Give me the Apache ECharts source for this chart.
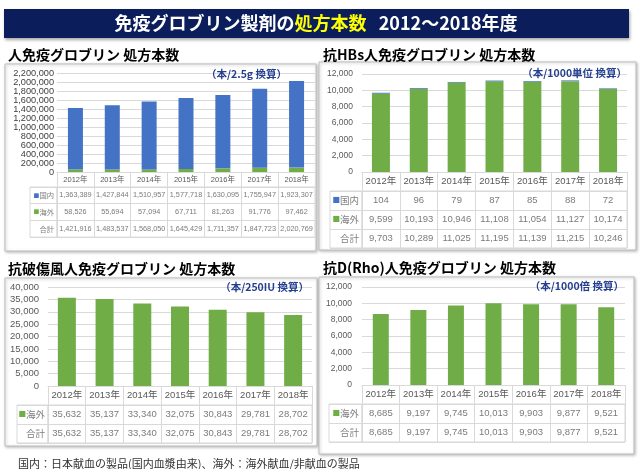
<!DOCTYPE html>
<html>
<head>
<meta charset="utf-8">
<script src="https://cdn.jsdelivr.net/npm/echarts@6/dist/echarts.min.js"></script>
<style>
  html, body { margin: 0; padding: 0; background: #fff; }
  #main { width: 643px; height: 469px; }
</style>
</head>
<body>
<div id="main"></div>
<script>
// 年度
const years = ['2012年', '2013年', '2014年', '2015年', '2016年', '2017年', '2018年']

// 人免疫グロブリン (本/2.5g換算)
const ivigDomestic = [1363389, 1427844, 1510957, 1577718, 1630095, 1755947, 1923307]
const ivigOverseas = [58526, 55694, 57094, 67711, 81263, 91776, 97462]
const ivigTotal = [1421916, 1483537, 1568050, 1645429, 1711357, 1847723, 2020769]

// 抗HBs人免疫グロブリン (本/1000単位換算)
const hbsDomestic = [104, 96, 79, 87, 85, 88, 72]
const hbsOverseas = [9599, 10193, 10946, 11108, 11054, 11127, 10174]
const hbsTotal = [9703, 10289, 11025, 11195, 11139, 11215, 10246]

// 抗破傷風人免疫グロブリン (本/250IU換算)
const tetOverseas = [35632, 35137, 33340, 32075, 30843, 29781, 28702]
const tetTotal = [35632, 35137, 33340, 32075, 30843, 29781, 28702]

// 抗D(Rho)人免疫グロブリン (本/1000倍換算)
const rhoOverseas = [8685, 9197, 9745, 10013, 9903, 9877, 9521]
const rhoTotal = [8685, 9197, 9745, 10013, 9903, 9877, 9521]

const BLUE = '#4472C4'
const GREEN = '#70AD47'
const LINE = '#d9d9d9'
const FONT = "'Liberation Sans', 'Noto Sans CJK JP', sans-serif"
const JP = "'Noto Sans CJK JP', sans-serif"
const fmt = v => v.toLocaleString('en-US')

const grid = []
const xAxis = []
const yAxis = []
const series = []

function addPanel(p) {
  const gi = grid.length
  // 棒グラフ
  grid.push({ left: p.left, top: p.top, width: p.width, height: p.height })
  xAxis.push({
    type: 'category',
    gridIndex: gi,
    data: years,
    axisLine: { lineStyle: { color: LINE } },
    //年の行の縦線
    axisTick: { show: true, interval: 0, length: p.yearH, lineStyle: { color: LINE } },
    axisLabel: { interval: 0, color: '#595959', fontSize: p.yearFont, fontFamily: FONT, margin: p.yearMargin },
  })
  yAxis.push({
    type: 'value',
    gridIndex: gi,
    min: 0,
    max: p.yMax,
    interval: p.yStep,
    axisLabel: {
      color: p.axisColor, fontSize: p.axisFont, fontFamily: FONT, margin: p.axisMargin, formatter: fmt,
      showMaxLabel: true, showMinLabel: true, hideOverlap: false,
    },
    splitLine: { lineStyle: { color: LINE } },
  })
  p.bars.forEach(b => {
    series.push({
      type: 'bar',
      name: b.name,
      xAxisIndex: gi,
      yAxisIndex: gi,
      stack: 's' + gi,
      barWidth: p.barWidth,
      data: b.data,
      itemStyle: { color: b.color },
    })
  })

  // 表
  const ti = grid.length
  const tableTop = p.top + p.height + p.yearH
  const tableH = p.rowH * p.rows.length
  grid.push({ left: p.left, top: tableTop, width: p.width, height: tableH, show: true, borderColor: LINE, borderWidth: 1 })
  xAxis.push({
    type: 'category',
    gridIndex: ti,
    data: years,
    axisLine: { show: false },
    axisTick: { show: false },
    axisLabel: { show: false },
    splitLine: { show: true, interval: 0, lineStyle: { color: LINE } },
  })
  yAxis.push({
    type: 'category',
    gridIndex: ti,
    inverse: true,
    data: p.rows.map(r => r.name),
    axisLine: { show: false },
    axisTick: { show: false },
    axisLabel: { show: false },
    splitLine: { show: true, interval: 0, lineStyle: { color: LINE } },
  })
  const cells = []
  p.rows.forEach((r, ri) => r.values.forEach((v, i) => cells.push([i, ri, v])))
  series.push({
    type: 'scatter',
    xAxisIndex: ti,
    yAxisIndex: ti,
    symbolSize: 1,
    itemStyle: { color: 'transparent' },
    silent: true,
    label: {
      show: true,
      position: 'inside',
      formatter: c => fmt(c.value[2]),
      color: '#595959',
      fontSize: p.tableFont,
      fontFamily: FONT,
    },
    data: cells,
  })

  // 行見出し
  const hi = grid.length
  grid.push({ left: p.headLeft, top: tableTop, width: p.left - p.headLeft, height: tableH, show: true, borderColor: LINE, borderWidth: 1 })
  xAxis.push({ type: 'value', gridIndex: hi, show: false, min: 0, max: 1 })
  const marks = {}
  p.rows.forEach(r => (marks[r.name] = r.mark))
  yAxis.push({
    type: 'category',
    gridIndex: hi,
    inverse: true,
    position: 'right',
    data: p.rows.map(r => r.name),
    axisLine: { show: false },
    axisTick: { show: false },
    axisLabel: {
      inside: true,
      margin: 3,
      color: '#7f7f7f',
      fontSize: p.tableFont,
      fontFamily: JP,
      formatter: v => (marks[v] ? '{' + marks[v] + '|■}' : '') + v,
      rich: {
        b: { color: BLUE, fontSize: p.tableFont * 0.8 },
        g: { color: GREEN, fontSize: p.tableFont * 0.8 },
      },
    },
    splitLine: { show: true, interval: 0, lineStyle: { color: LINE } },
  })
}

addPanel({
  left: 57, top: 73, width: 258, height: 99,
  yMax: 2200000, yStep: 200000, axisFont: 9.2, axisColor: '#404040', axisMargin: 3,
  yearH: 15, yearFont: 7.5, yearMargin: 4,
  rowH: 16.7, tableFont: 7.3, headLeft: 30, barWidth: 15,
  bars: [
    { name: '海外', data: ivigOverseas, color: GREEN },
    { name: '国内', data: ivigDomestic, color: BLUE },
  ],
  rows: [
    { name: '国内', mark: 'b', values: ivigDomestic },
    { name: '海外', mark: 'g', values: ivigOverseas },
    { name: '合計', mark: '', values: ivigTotal },
  ],
})

addPanel({
  left: 362, top: 74, width: 265, height: 98,
  yMax: 12000, yStep: 2000, axisFont: 8.5, axisColor: '#595959', axisMargin: 9,
  yearH: 19, yearFont: 9.5, yearMargin: 5,
  rowH: 19, tableFont: 9.5, headLeft: 330, barWidth: 18,
  bars: [
    { name: '海外', data: hbsOverseas, color: GREEN },
    { name: '国内', data: hbsDomestic, color: BLUE },
  ],
  rows: [
    { name: '国内', mark: 'b', values: hbsDomestic },
    { name: '海外', mark: 'g', values: hbsOverseas },
    { name: '合計', mark: '', values: hbsTotal },
  ],
})

addPanel({
  left: 48, top: 287, width: 264, height: 99,
  yMax: 40000, yStep: 5000, axisFont: 9.5, axisColor: '#595959', axisMargin: 9,
  yearH: 19, yearFont: 9.5, yearMargin: 5,
  rowH: 19, tableFont: 9.5, headLeft: 17, barWidth: 18,
  bars: [{ name: '海外', data: tetOverseas, color: GREEN }],
  rows: [
    { name: '海外', mark: 'g', values: tetOverseas },
    { name: '合計', mark: '', values: tetTotal },
  ],
})

addPanel({
  left: 362, top: 287, width: 263, height: 98,
  yMax: 12000, yStep: 2000, axisFont: 8.5, axisColor: '#595959', axisMargin: 10,
  yearH: 19, yearFont: 9.5, yearMargin: 5,
  rowH: 19, tableFont: 9.5, headLeft: 329, barWidth: 16,
  bars: [{ name: '海外', data: rhoOverseas, color: GREEN }],
  rows: [
    { name: '海外', mark: 'g', values: rhoOverseas },
    { name: '合計', mark: '', values: rhoTotal },
  ],
})

function panelBox(x, y, w, h) {
  return {
    type: 'rect', z: -10, silent: true,
    shape: { x: x, y: y, width: w, height: h },
    style: { fill: '#fff', stroke: '#bfbfbf', lineWidth: 1, shadowBlur: 3, shadowColor: 'rgba(0,0,0,0.25)', shadowOffsetX: 1, shadowOffsetY: 1 },
  }
}
function textAt(x, y, text, font, fill, align) {
  return {
    type: 'text', z: 100, silent: true, x: x, y: y,
    style: { text: text, font: font, fill: fill, align: align || 'left', textAlign: align || 'left', verticalAlign: 'middle', textVerticalAlign: 'middle' },
  }
}

const TITLE_FONT = "bold 14px 'Noto Sans CJK JP', sans-serif"
const UNIT_FONT = "bold 10.5px 'Noto Sans CJK JP', sans-serif"
const UNIT_COLOR = '#243f8f'

const graphic = [
  panelBox(5, 64, 311, 187),
  panelBox(319, 62, 317, 188),
  panelBox(5, 278, 312, 168),
  panelBox(319, 277, 315, 177),
  {
    type: 'rect', z: -5, silent: true,
    shape: { x: 4, y: 9, width: 625, height: 29 },
    style: { fill: '#0b1e5b', shadowBlur: 3, shadowColor: 'rgba(0,0,0,0.35)', shadowOffsetX: 1, shadowOffsetY: 2 },
  },
  {
    type: 'text', z: 100, silent: true, x: 316, y: 23.5,
    style: {
      text: '{w|免疫グロブリン製剤の}{y|処方本数}{w|   2012～2018年度}',
      align: 'center', textAlign: 'center', verticalAlign: 'middle', textVerticalAlign: 'middle',
      rich: {
        w: { fill: '#ffffff', fontSize: 18, fontWeight: 'bold', fontFamily: JP },
        y: { fill: '#ffff00', fontSize: 18, fontWeight: 'bold', fontFamily: JP },
      },
    },
  },
  textAt(8, 55, '人免疫グロブリン 処方本数', TITLE_FONT, '#000'),
  textAt(323, 55, '抗HBs人免疫グロブリン 処方本数', TITLE_FONT, '#000'),
  textAt(8, 269, '抗破傷風人免疫グロブリン 処方本数', TITLE_FONT, '#000'),
  textAt(323, 268, '抗D(Rho)人免疫グロブリン 処方本数', TITLE_FONT, '#000'),
  textAt(287, 74, '（本/2.5g 換算）', UNIT_FONT, UNIT_COLOR, 'right'),
  textAt(627, 73, '（本/1000単位 換算）', UNIT_FONT, UNIT_COLOR, 'right'),
  textAt(309, 287, '（本/250IU 換算）', UNIT_FONT, UNIT_COLOR, 'right'),
  textAt(624, 286, '（本/1000倍 換算）', UNIT_FONT, UNIT_COLOR, 'right'),
  textAt(18, 464, '国内：日本献血の製品(国内血漿由来)、海外：海外献血/非献血の製品', "11px 'Noto Sans CJK JP', sans-serif", '#333'),
]

const chart = echarts.init(document.getElementById('main'))
chart.setOption({
  animation: false,
  backgroundColor: '#fff',
  grid,
  xAxis,
  yAxis,
  series,
  graphic,
})
</script>
</body>
</html>
